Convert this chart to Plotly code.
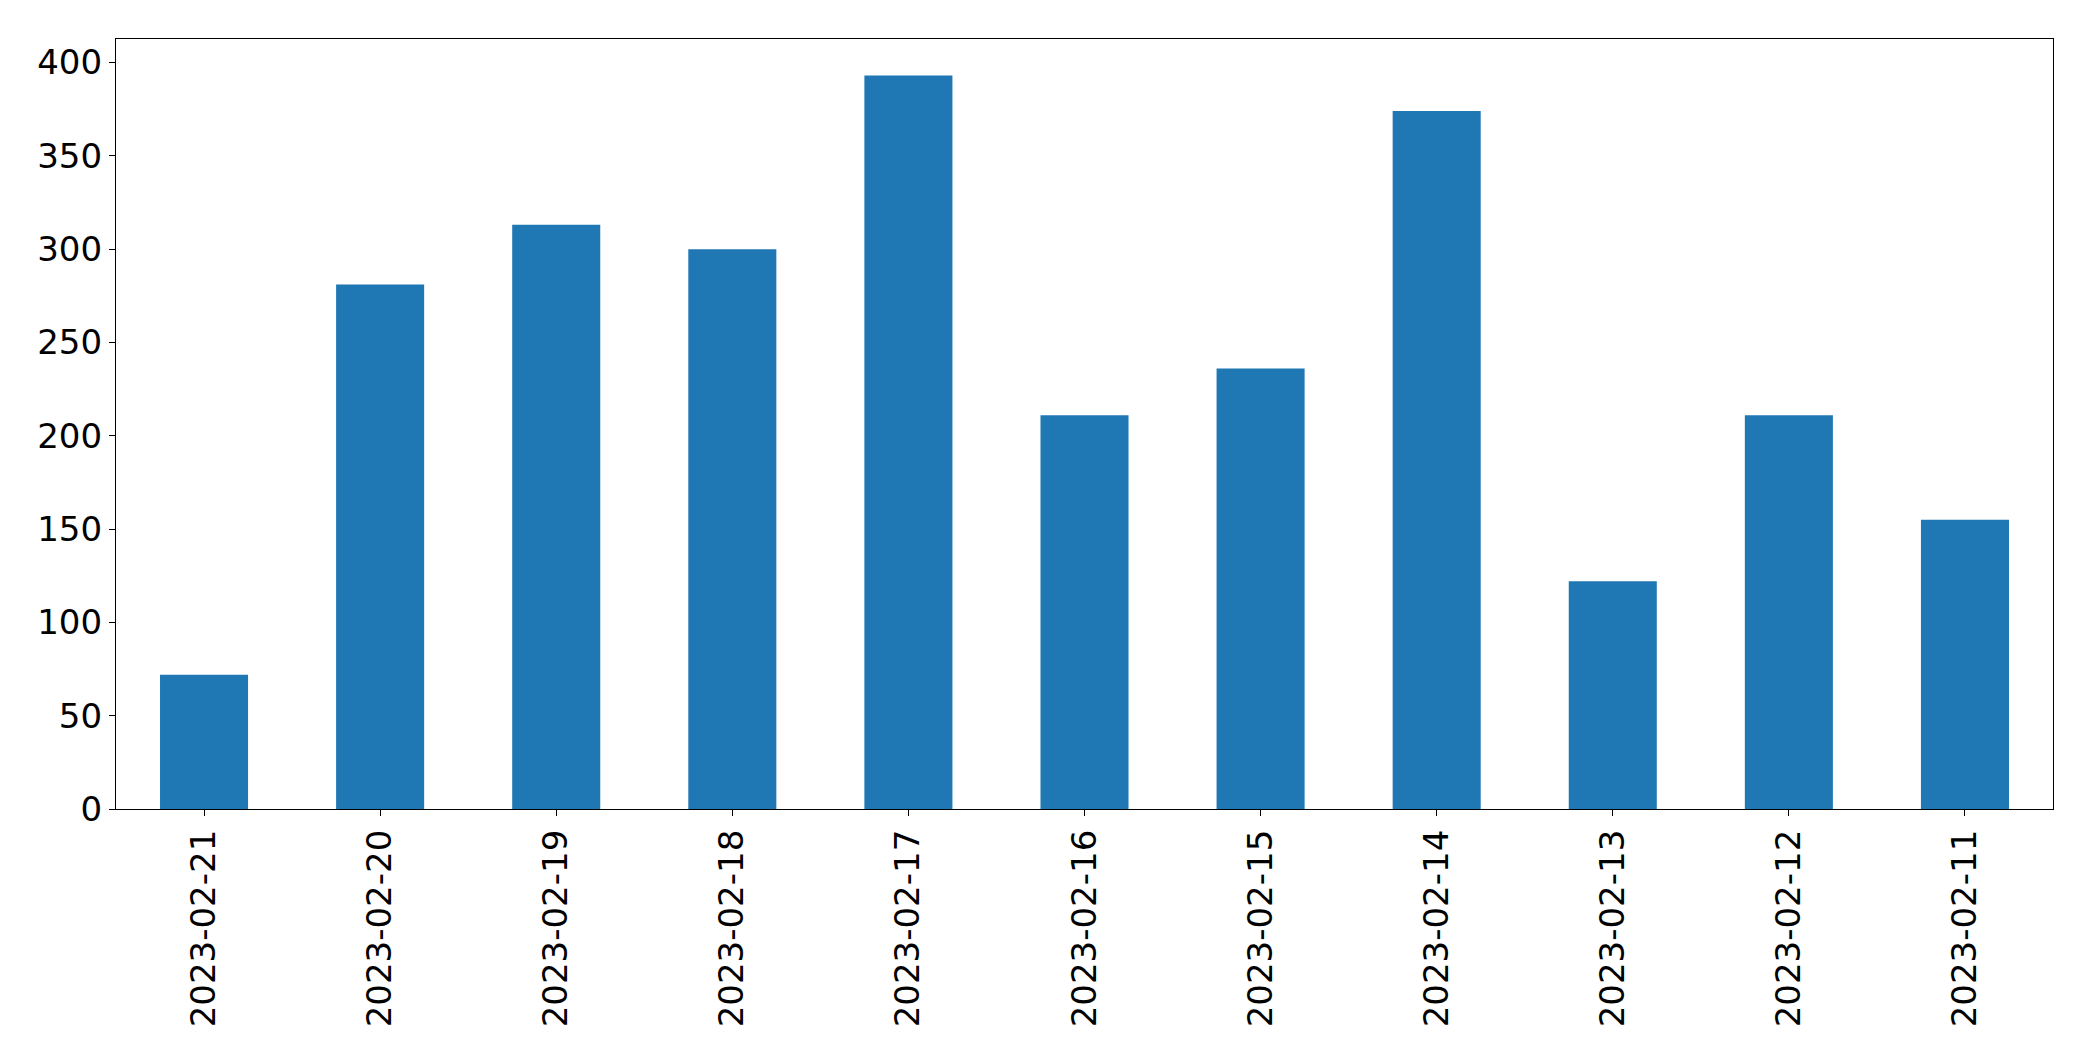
import plotly.graph_objects as go

dates = ["2023-02-21", "2023-02-20", "2023-02-19", "2023-02-18", "2023-02-17", "2023-02-16",
         "2023-02-15", "2023-02-14", "2023-02-13", "2023-02-12", "2023-02-11"]
counts = [72, 281, 313, 300, 393, 211, 236, 374, 122, 211, 155]
y_ticks = [0, 50, 100, 150, 200, 250, 300, 350, 400]

fig = go.Figure(go.Bar(x=dates, y=counts, marker=dict(color="#1f77b4", line=dict(width=0)), width=0.5))

axis_common = dict(showline=True, mirror=True, linecolor="black", linewidth=1.3,
                   ticks="outside", ticklen=6, tickwidth=1.3, tickcolor="black",
                   showgrid=False, zeroline=False,
                   tickfont=dict(family="DejaVu Sans", size=34, color="black"))

fig.update_layout(
    width=2077, height=1045,
    margin=dict(l=108, r=32, t=31, b=244),
    plot_bgcolor="white", paper_bgcolor="white",
    showlegend=False,
    xaxis=dict(type="category", range=[-0.5, len(dates) - 0.5], tickangle=-90, **axis_common),
    yaxis=dict(range=[0, 412.6], tickvals=y_ticks, **axis_common),
)

fig.write_html("out.html")
